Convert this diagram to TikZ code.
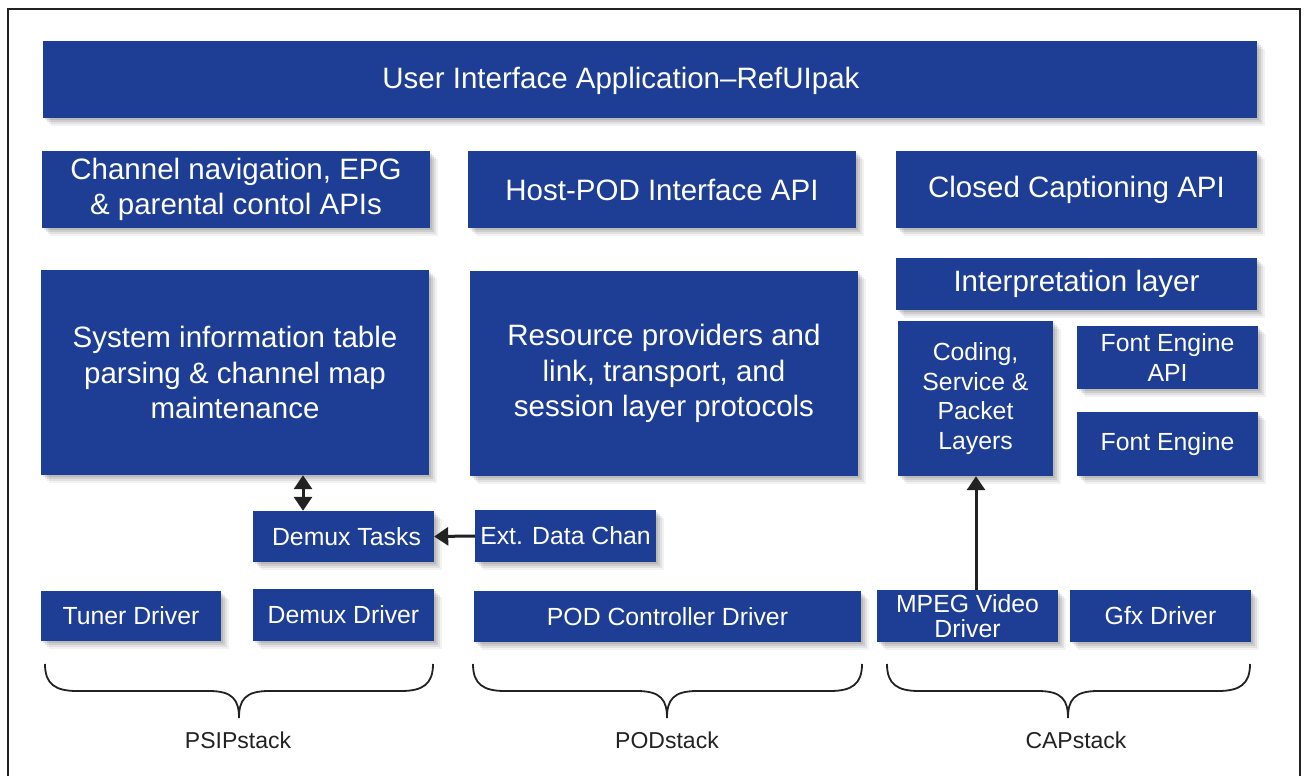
\documentclass[tikz,border=0pt]{standalone}
\usepackage{fontspec}
\setmainfont{Liberation Sans}
\usetikzlibrary{shadows,arrows.meta}
\definecolor{boxblue}{HTML}{1D3E94}
\definecolor{ink}{HTML}{222222}
\tikzset{
  box/.style={fill=boxblue, draw=none, text=white, inner sep=0pt, align=center,
    general shadow={fill=black, opacity=.09, shadow xshift=2pt, shadow yshift=-2pt},
    general shadow={fill=black, opacity=.09, shadow xshift=4pt, shadow yshift=-4pt},
    general shadow={fill=black, opacity=.07, shadow xshift=6pt, shadow yshift=-6pt},
    general shadow={fill=black, opacity=.05, shadow xshift=8pt, shadow yshift=-8pt}},
  big/.style={font=\fontsize{29.5}{35.5}\selectfont},
  small/.style={font=\fontsize{24.8}{29.5}\selectfont},
  stacklabel/.style={text=ink, font=\fontsize{23}{26}\selectfont},
  tip/.tip={Triangle[width=18pt,length=14pt]},
  arr/.style={draw=ink, line width=3pt, -tip},
  darr/.style={draw=ink, line width=3pt, tip-tip},
  bracestyle/.style={draw=ink, line width=1.8pt},
}
\newcommand{\stackbrace}[3]{%
  \draw[bracestyle] (#1,664) .. controls (#1,684) and (#1+10,691) .. (#1+32,691)
    -- (#3-30,691) .. controls (#3-6,691) and (#3,700) .. (#3,718)
    .. controls (#3,700) and (#3+6,691) .. (#3+30,691)
    -- (#2-32,691) .. controls (#2-10,691) and (#2,684) .. (#2,664);}
\begin{document}
\begin{tikzpicture}[x=1pt,y=-1pt]
\useasboundingbox (0,0) rectangle (1304,776);
\draw[ink, line width=2pt] (8,780) -- (8,9) -- (1300,9) -- (1300,780);

\node[box, minimum width=1214pt, minimum height=77pt,
  label={[text=white, big, xshift=-29pt, yshift=-1pt]center:User Interface Application--RefUIpak}] (ui) at (650,79.5) {};

\node[box, big, minimum width=388pt, minimum height=77pt] (chan) at (236,189.5) {Channel navigation, EPG\\\& parental contol APIs};
\node[box, big, minimum width=388pt, minimum height=77pt] (host) at (662,189.5) {Host-POD Interface API};
\node[box, big, minimum width=361pt, minimum height=77pt] (cc) at (1076.5,189.5) {\raisebox{-2pt}{Closed Captioning API}};

\node[box, big, minimum width=388pt, minimum height=205pt] (sys) at (235,372.5) {System information table\\parsing \& channel map\\maintenance};
\node[box, big, minimum width=388pt, minimum height=205pt] (res) at (664,373.5) {Resource providers and\\link, transport, and\\session layer protocols};

\node[box, big, minimum width=361pt, minimum height=52pt] (interp) at (1076.5,284) {\raisebox{-1pt}{Interpretation layer}};
\node[box, small, minimum width=155pt, minimum height=155pt] (coding) at (975.5,398.5) {Coding,\\Service \&\\Packet\\Layers};
\node[box, small, minimum width=181pt, minimum height=63pt] (fea) at (1167.5,357.5) {Font Engine\\API};
\node[box, small, minimum width=181pt, minimum height=64pt] (fe) at (1167.5,444) {Font Engine};

\node[box, small, minimum width=181pt, minimum height=51pt] (dt) at (343.5,536.5) {\hspace{6pt}Demux Tasks};
\node[box, small, minimum width=181pt, minimum height=52pt] (ext) at (565.5,536) {Ext. Data Chan};

\node[box, small, minimum width=180pt, minimum height=50pt] (tuner) at (131,616) {Tuner Driver};
\node[box, small, minimum width=181pt, minimum height=52pt] (dd) at (343.5,615) {Demux Driver};
\node[box, small, minimum width=387pt, minimum height=51pt] (podc) at (667.5,616.5) {POD Controller Driver};
\node[box, font=\fontsize{24.8}{25}\selectfont, minimum width=181pt, minimum height=52pt] (mpeg) at (967.5,616) {MPEG Video\\Driver};
\node[box, small, minimum width=181pt, minimum height=52pt] (gfx) at (1160.5,616) {Gfx Driver};

\draw[darr] (sys.south -| 303,0) -- (dt.north -| 303,0);
\draw[arr] (ext.west) -- (dt.east);
\draw[arr] (mpeg.north -| 976,0) -- (coding.south -| 976,0);

\stackbrace{45}{433}{239}
\stackbrace{473}{862}{667}
\stackbrace{887}{1250}{1068}

\node[stacklabel] (psip) at (238,740) {PSIPstack};
\node[stacklabel] (pod) at (667,740) {PODstack};
\node[stacklabel] (cap) at (1076,740) {CAPstack};
\end{tikzpicture}
\end{document}
